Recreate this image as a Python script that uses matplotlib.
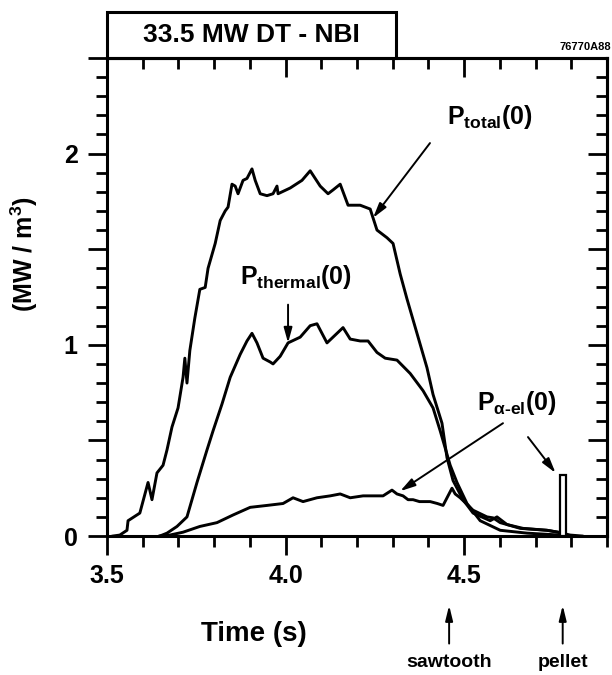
import numpy as np
import matplotlib
matplotlib.use("Agg")
import matplotlib.pyplot as plt
from matplotlib.ticker import MultipleLocator, FuncFormatter
from matplotlib.patches import Rectangle
import matplotlib.transforms as mtransforms

plt.rcParams['font.family'] = ['Liberation Sans', 'DejaVu Sans']
plt.rcParams['font.weight'] = 'bold'
plt.rcParams['mathtext.fontset'] = 'custom'
plt.rcParams['mathtext.rm'] = 'Liberation Sans:bold'
plt.rcParams['mathtext.it'] = 'Liberation Sans:bold'
plt.rcParams['mathtext.bf'] = 'Liberation Sans:bold'

# P_total(0), MW/m^3 vs time (s)
t_total = [3.517, 3.536, 3.556, 3.559, 3.592, 3.615, 3.626, 3.640, 3.657, 3.668,
           3.682, 3.699, 3.713, 3.718, 3.724, 3.732, 3.746, 3.760, 3.775, 3.783,
           3.803, 3.817, 3.831, 3.839, 3.850, 3.859, 3.867, 3.881, 3.892, 3.906,
           3.915, 3.929, 3.948, 3.965, 3.976, 3.979, 4.013, 4.046, 4.069, 4.097,
           4.119, 4.133, 4.153, 4.175, 4.209, 4.237, 4.256, 4.284, 4.301, 4.321,
           4.340, 4.368, 4.396, 4.413, 4.438, 4.452, 4.469, 4.497, 4.525, 4.573,
           4.592, 4.620, 4.657, 4.732, 4.763, 4.797, 4.83]
p_total = [0.0, 0.005, 0.03, 0.08, 0.12, 0.28, 0.19, 0.33, 0.37, 0.45,
           0.57, 0.67, 0.83, 0.93, 0.80, 0.97, 1.14, 1.29, 1.30, 1.40,
           1.53, 1.65, 1.70, 1.72, 1.84, 1.83, 1.79, 1.86, 1.87, 1.92,
           1.86, 1.79, 1.78, 1.79, 1.83, 1.79, 1.82, 1.86, 1.91, 1.83,
           1.79, 1.81, 1.84, 1.73, 1.73, 1.71, 1.60, 1.56, 1.53, 1.37,
           1.24, 1.06, 0.88, 0.74, 0.59, 0.41, 0.29, 0.19, 0.12, 0.08,
           0.10, 0.06, 0.04, 0.03, 0.02, 0.005, 0.0]

# P_thermal(0)
t_thermal = [3.648, 3.668, 3.696, 3.724, 3.752, 3.780, 3.797, 3.822, 3.845, 3.873,
             3.892, 3.906, 3.920, 3.937, 3.957, 3.965, 3.985, 4.007, 4.041, 4.069,
             4.088, 4.116, 4.161, 4.181, 4.209, 4.231, 4.256, 4.279, 4.312, 4.349,
             4.385, 4.413, 4.433, 4.447, 4.461, 4.480, 4.508, 4.545, 4.601, 4.676,
             4.769, 4.80]
p_thermal = [0.0, 0.015, 0.05, 0.10, 0.28, 0.45, 0.55, 0.69, 0.83, 0.95,
             1.02, 1.06, 1.01, 0.93, 0.91, 0.90, 0.94, 1.01, 1.04, 1.10,
             1.11, 1.01, 1.09, 1.03, 1.02, 1.02, 0.96, 0.93, 0.92, 0.85,
             0.76, 0.67, 0.55, 0.46, 0.37, 0.28, 0.17, 0.08, 0.03, 0.015,
             0.005, 0.0]

# P_alpha-el(0)
t_alpha = [3.648, 3.676, 3.713, 3.760, 3.808, 3.853, 3.901, 3.948, 3.993, 4.021,
           4.049, 4.088, 4.125, 4.153, 4.181, 4.217, 4.245, 4.273, 4.298, 4.312,
           4.329, 4.343, 4.357, 4.375, 4.405, 4.425, 4.441, 4.466, 4.475, 4.489,
           4.525, 4.564, 4.581, 4.601, 4.620, 4.665, 4.732, 4.763, 4.783, 4.80]
p_alpha = [0.0, 0.005, 0.02, 0.05, 0.07, 0.11, 0.15, 0.16, 0.17, 0.20,
           0.18, 0.20, 0.21, 0.22, 0.20, 0.21, 0.21, 0.21, 0.24, 0.22,
           0.21, 0.19, 0.19, 0.18, 0.18, 0.17, 0.16, 0.25, 0.22, 0.20,
           0.135, 0.10, 0.095, 0.07, 0.06, 0.04, 0.03, 0.02, 0.005, 0.0]

# pellet spike
pellet_time = 4.776
pellet_height = 0.32
sawtooth_time = 4.458

x_ticks = [3.5, 4.0, 4.5]
x_tick_labels = ['3.5', '4.0', '4.5']

fig = plt.figure(figsize=(6.12, 6.75), dpi=100)
ax = fig.add_axes([0.1748, 0.2059, 0.817, 0.7082])

lw = 2.1
ax.plot(t_total, p_total, color='black', lw=lw, solid_joinstyle='round')
ax.plot(t_thermal, p_thermal, color='black', lw=lw, solid_joinstyle='round')
ax.plot(t_alpha, p_alpha, color='black', lw=lw, solid_joinstyle='round')
ax.bar([pellet_time], [pellet_height], width=0.016, facecolor='white',
       edgecolor='black', linewidth=1.6, zorder=3)

ax.set_xlim(3.5, 4.9)
ax.set_ylim(0, 2.5)

for s in ax.spines.values():
    s.set_linewidth(2.2)

ax.xaxis.set_major_locator(MultipleLocator(0.5))
ax.xaxis.set_minor_locator(MultipleLocator(0.1))
ax.set_xticks(x_ticks)
ax.set_xticklabels(x_tick_labels)
ax.yaxis.set_major_locator(MultipleLocator(0.5))
ax.yaxis.set_minor_locator(MultipleLocator(0.1))
ax.yaxis.set_major_formatter(FuncFormatter(lambda v, p: '%d' % v if abs(v - round(v)) < 1e-6 else ''))
ax.tick_params(which='major', direction='out', length=14, width=2, labelsize=18)
ax.tick_params(axis='x', which='major', pad=6)
ax.tick_params(axis='y', which='major', pad=7)
ax.tick_params(which='minor', direction='out', length=8, width=2)

# top and right axes: ticks pointing in
top = ax.secondary_xaxis('top')
top.xaxis.set_major_locator(MultipleLocator(0.5))
top.xaxis.set_minor_locator(MultipleLocator(0.1))
top.tick_params(which='major', direction='in', length=14, width=2, labeltop=False)
top.tick_params(which='minor', direction='in', length=8, width=2)
top.spines['top'].set_linewidth(2.2)
right = ax.secondary_yaxis('right')
right.yaxis.set_major_locator(MultipleLocator(0.5))
right.yaxis.set_minor_locator(MultipleLocator(0.1))
right.tick_params(which='major', direction='in', length=14, width=2, labelright=False)
right.tick_params(which='minor', direction='in', length=8, width=2)
right.spines['right'].set_linewidth(2.2)

ax.set_xlabel('Time (s)', fontsize=20, fontweight='bold')
ax.xaxis.set_label_coords(0.294, -0.178)
ax.set_ylabel('(MW / m$^{3}$)', fontsize=18, fontweight='bold')
ax.yaxis.set_label_coords(-0.134, 0.59)

# title box
ax.add_patch(Rectangle((0, 1.0), 0.578, 0.096, transform=ax.transAxes,
                       facecolor='white', edgecolor='black', linewidth=2.2, clip_on=False))
ax.text(0.289, 1.048, '33.5 MW DT - NBI', transform=ax.transAxes, ha='center',
        va='center', fontsize=19, fontweight='bold')
fig.text(0.999, 0.930, '76770A88', ha='right', va='center', fontsize=8, fontweight='bold')

# curve labels
ax.text(0.68, 0.877, '$P_{total}$(0)', transform=ax.transAxes, ha='left', va='center', fontsize=18)
ax.text(0.266, 0.542, '$P_{thermal}$(0)', transform=ax.transAxes, ha='left', va='center', fontsize=18)
ax.text(0.74, 0.278, r'$P_{\alpha\text{-el}}$(0)', transform=ax.transAxes, ha='left', va='center', fontsize=18)

arrow = dict(arrowstyle='-|>,head_length=0.9,head_width=0.25', color='black', lw=1.4,
             shrinkA=0, shrinkB=0)
ax.annotate('', xy=(4.245, np.interp(4.245, t_total, p_total)), xycoords='data',
            xytext=(0.646, 0.822), textcoords='axes fraction', arrowprops=arrow)
ax.annotate('', xy=(4.007, np.interp(4.007, t_thermal, p_thermal)), xycoords='data',
            xytext=(4.007, 1.21), textcoords='data', arrowprops=arrow)
ax.annotate('', xy=(4.321, np.interp(4.321, t_alpha, p_alpha) + 0.02), xycoords='data',
            xytext=(0.792, 0.236), textcoords='axes fraction', arrowprops=arrow)
ax.annotate('', xy=(pellet_time - 0.02, pellet_height + 0.01), xycoords='data',
            xytext=(0.842, 0.207), textcoords='axes fraction', arrowprops=arrow)

# event markers below the axis
trans = mtransforms.blended_transform_factory(ax.transData, ax.transAxes)
trans_fig = mtransforms.blended_transform_factory(ax.transData, fig.transFigure)
for tt, name in [(sawtooth_time, 'sawtooth'), (pellet_time, 'pellet')]:
    ax.annotate('', xy=(tt, -0.145), xycoords=trans, xytext=(tt, -0.225), textcoords=trans,
                arrowprops=dict(arrowstyle='-|>,head_length=0.9,head_width=0.22',
                                color='black', lw=1.4, shrinkA=0, shrinkB=0))
    ax.text(tt, 0.006, name, transform=trans_fig, ha='center', va='bottom', fontsize=14,
            fontweight='bold', clip_on=False)

fig.savefig('out.png', dpi=100)
